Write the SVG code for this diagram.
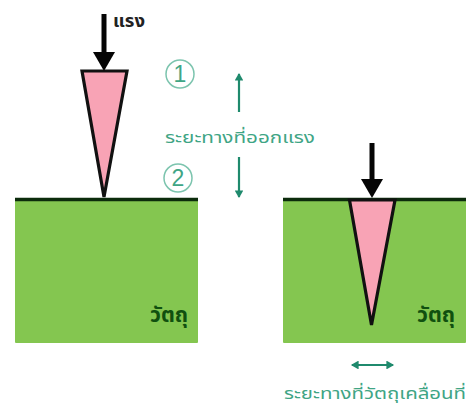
<svg xmlns="http://www.w3.org/2000/svg" width="467" height="407" viewBox="0 0 467 407">
<defs>
<marker id="tip" markerWidth="4" markerHeight="4" refX="3" refY="2" orient="auto-start-reverse" markerUnits="strokeWidth"><path d="M0 0L3.500 2L0 4Z" fill="#1f8a6d"/></marker>
</defs>
<style>
.block{fill:#84c650}
.top{stroke:#0c2c0c;stroke-width:3.500;fill:none}
.wedge{fill:#f8a3b5;stroke:#111;stroke-width:3.200;stroke-linejoin:miter}
.force{stroke:#050505;stroke-width:5;fill:none}
.head{fill:#050505}
.dim{stroke:#1f8a6d;stroke-width:2.200;fill:none}
.t{font-family:"Noto Sans Thai","Noto Sans","DejaVu Sans",sans-serif}
.mat{font-size:21px;font-weight:bold;fill:#10500f}
.dist{font-size:16px;fill:#3fa585}
.num{stroke:#7cc4ae;stroke-width:1.500;fill:#fff}
.digit{font-family:"Liberation Sans",sans-serif;font-size:23px;fill:#3fa585;text-anchor:middle}
</style>
<rect width="467" height="407" fill="#fff"/>
<g id="material-left">
<rect class="block" x="15" y="199" width="183" height="144" rx="1"/>
<path class="top" d="M15 199.500H198"/>
<text class="t mat" x="150" y="322" textLength="38" lengthAdjust="spacingAndGlyphs">วัตถุ</text>
</g>
<g id="material-right">
<rect class="block" x="283" y="199" width="183" height="144" rx="1"/>
<path class="top" d="M283 199.500H466"/>
<text class="t mat" x="417" y="322" textLength="38" lengthAdjust="spacingAndGlyphs">วัตถุ</text>
</g>
<g id="wedge-left"><path class="wedge" d="M82 71H127L104 197Z"/></g>
<g id="wedge-right"><path class="wedge" d="M349.500 200H395L371.500 325Z"/></g>
<g id="marker-1"><circle class="num" cx="180" cy="74" r="14"/><text class="digit" x="180" y="82">1</text></g>
<g id="marker-2"><circle class="num" cx="178" cy="178" r="14"/><text class="digit" x="178" y="186">2</text></g>
<g id="label-force"><text class="t" x="113" y="27" font-size="17" font-weight="bold" fill="#222" textLength="32" lengthAdjust="spacingAndGlyphs">แรง</text></g>
<g id="label-distance"><text class="t dist" x="165" y="143" textLength="150" lengthAdjust="spacingAndGlyphs">ระยะทางที่ออกแรง</text></g>
<g id="label-move"><text class="t dist" x="284" y="399" textLength="182" lengthAdjust="spacingAndGlyphs">ระยะทางที่วัตถุเคลื่อนที่</text></g>
<g id="connectors">
<path class="force" d="M104 14V54"/><path class="head" d="M93 52H115L104 71Z"/>
<path class="force" d="M372 143V181"/><path class="head" d="M361 179H383L372 198Z"/>
<path class="dim" marker-end="url(#tip)" d="M239 112V74"/>
<path class="dim" marker-end="url(#tip)" d="M239 157V197"/>
<path class="dim" marker-start="url(#tip)" marker-end="url(#tip)" d="M352 365H393"/>
</g>
</svg>
